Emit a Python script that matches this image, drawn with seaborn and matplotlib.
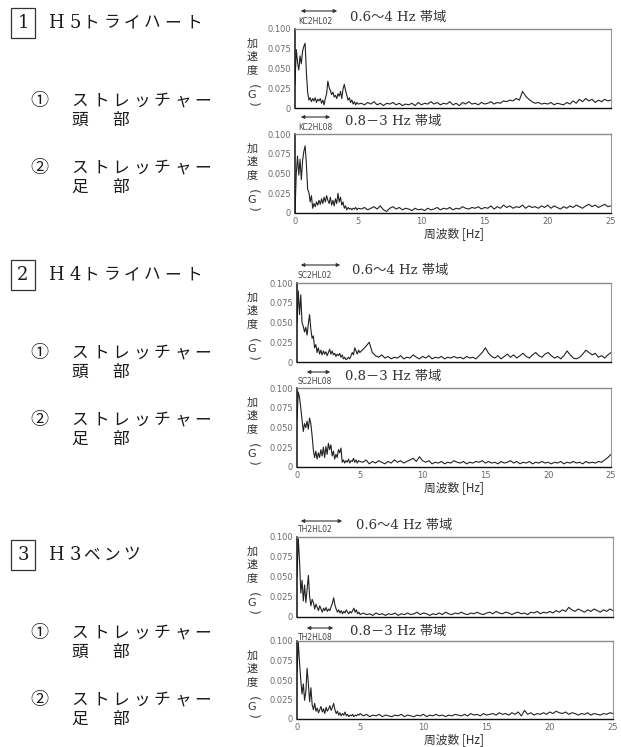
import numpy as np
import matplotlib
matplotlib.use("Agg")
import matplotlib.pyplot as plt
import seaborn as sns

# ---------------------------------------------------------------- data
# frequency grids [Hz]: fine steps below 5 Hz, coarser above
FREQ_LOW = np.round(np.arange(0.0, 5.0001, 0.1), 2)

# acceleration spectra [G]
H5_HEAD_LOW = [0.030, 0.074, 0.058, 0.048, 0.066, 0.056, 0.072, 0.078, 0.082, 0.045,
               0.020, 0.010, 0.013, 0.008, 0.012, 0.009, 0.013, 0.007, 0.011, 0.009,
               0.012, 0.006, 0.010, 0.004, 0.012, 0.018, 0.034, 0.026, 0.022, 0.017,
               0.020, 0.014, 0.016, 0.012, 0.018, 0.015, 0.021, 0.012, 0.024, 0.030,
               0.022, 0.016, 0.010, 0.013, 0.007, 0.010, 0.005, 0.008, 0.004, 0.007,
               0.005]
H5_HEAD_HIGH = [0.006, 0.004, 0.007, 0.005, 0.008, 0.004, 0.006, 0.003, 0.006, 0.005,
                0.007, 0.004, 0.006, 0.003, 0.005, 0.004, 0.006, 0.003, 0.007, 0.004,
                0.006, 0.005, 0.008, 0.005, 0.007, 0.004, 0.006, 0.005, 0.008, 0.004,
                0.006, 0.003, 0.007, 0.005, 0.008, 0.005, 0.006, 0.004, 0.007, 0.005,
                0.006, 0.008, 0.005, 0.007, 0.006, 0.009, 0.008, 0.010, 0.009, 0.012,
                0.010, 0.021, 0.015, 0.011, 0.008, 0.006, 0.007, 0.005, 0.006, 0.005,
                0.007, 0.004, 0.006, 0.005, 0.004, 0.007, 0.005, 0.009, 0.006, 0.011,
                0.008, 0.012, 0.009, 0.011, 0.007, 0.010, 0.008, 0.011, 0.009, 0.010]

H5_FOOT_LOW = [0.000, 0.050, 0.072, 0.048, 0.068, 0.042, 0.066, 0.078, 0.085, 0.062,
               0.030, 0.026, 0.014, 0.022, 0.006, 0.012, 0.008, 0.014, 0.010, 0.016,
               0.011, 0.018, 0.012, 0.020, 0.014, 0.022, 0.016, 0.012, 0.020, 0.010,
               0.016, 0.009, 0.018, 0.012, 0.025, 0.014, 0.020, 0.010, 0.014, 0.006,
               0.009, 0.004, 0.007, 0.005, 0.006, 0.004, 0.006, 0.005, 0.007, 0.004,
               0.006]
H5_FOOT_HIGH = [0.005, 0.007, 0.004, 0.006, 0.008, 0.005, 0.009, 0.004, 0.002, 0.006,
                0.008, 0.005, 0.007, 0.004, 0.006, 0.005, 0.003, 0.006, 0.004, 0.005,
                0.003, 0.006, 0.004, 0.005, 0.007, 0.004, 0.006, 0.005, 0.007, 0.004,
                0.006, 0.005, 0.008, 0.006, 0.005, 0.007, 0.006, 0.008, 0.005, 0.007,
                0.006, 0.009, 0.005, 0.008, 0.006, 0.010, 0.007, 0.009, 0.006, 0.008,
                0.007, 0.010, 0.006, 0.009, 0.007, 0.008, 0.006, 0.009, 0.007, 0.010,
                0.006, 0.009, 0.007, 0.005, 0.008, 0.006, 0.009, 0.007, 0.010, 0.008,
                0.006, 0.009, 0.011, 0.008, 0.010, 0.007, 0.009, 0.011, 0.008, 0.009]

H4_HEAD_LOW = [0.050, 0.090, 0.060, 0.085, 0.050, 0.045, 0.038, 0.044, 0.034, 0.048,
               0.060, 0.042, 0.030, 0.033, 0.018, 0.022, 0.012, 0.018, 0.010, 0.015,
               0.009, 0.014, 0.010, 0.013, 0.008, 0.012, 0.016, 0.010, 0.014, 0.009,
               0.011, 0.007, 0.010, 0.008, 0.011, 0.006, 0.009, 0.004, 0.006, 0.003,
               0.004, 0.006, 0.004, 0.008, 0.012, 0.009, 0.018, 0.014, 0.010, 0.015,
               0.012]
H4_HEAD_HIGH = [0.016, 0.020, 0.025, 0.012, 0.008, 0.006, 0.009, 0.005, 0.007, 0.004,
                0.006, 0.005, 0.008, 0.004, 0.006, 0.005, 0.009, 0.006, 0.004, 0.007,
                0.005, 0.008, 0.004, 0.006, 0.005, 0.007, 0.004, 0.006, 0.005, 0.007,
                0.005, 0.006, 0.004, 0.007, 0.005, 0.006, 0.004, 0.008, 0.012, 0.018,
                0.011, 0.007, 0.005, 0.008, 0.004, 0.007, 0.010, 0.006, 0.009, 0.005,
                0.008, 0.011, 0.007, 0.005, 0.009, 0.012, 0.008, 0.006, 0.010, 0.012,
                0.008, 0.005, 0.007, 0.004, 0.008, 0.014, 0.009, 0.005, 0.004, 0.006,
                0.010, 0.015, 0.012, 0.009, 0.011, 0.006, 0.008, 0.005, 0.009, 0.012]

H4_FOOT_LOW = [0.060, 0.095, 0.088, 0.075, 0.060, 0.045, 0.055, 0.050, 0.058, 0.048,
               0.062, 0.055, 0.040, 0.022, 0.012, 0.020, 0.010, 0.018, 0.012, 0.022,
               0.014, 0.025, 0.012, 0.026, 0.016, 0.030, 0.022, 0.028, 0.014, 0.020,
               0.010, 0.016, 0.012, 0.022, 0.018, 0.024, 0.006, 0.009, 0.005, 0.008,
               0.006, 0.010, 0.005, 0.008, 0.007, 0.011, 0.006, 0.009, 0.005, 0.008,
               0.007]
H4_FOOT_HIGH = [0.006, 0.009, 0.004, 0.007, 0.005, 0.008, 0.006, 0.004, 0.007, 0.005,
                0.009, 0.006, 0.008, 0.005, 0.007, 0.009, 0.011, 0.007, 0.013, 0.008,
                0.006, 0.008, 0.004, 0.006, 0.005, 0.007, 0.004, 0.006, 0.005, 0.008,
                0.006, 0.005, 0.007, 0.004, 0.006, 0.005, 0.007, 0.006, 0.008, 0.005,
                0.007, 0.005, 0.006, 0.004, 0.007, 0.005, 0.006, 0.008, 0.005, 0.007,
                0.004, 0.006, 0.005, 0.007, 0.004, 0.006, 0.005, 0.007, 0.005, 0.006,
                0.004, 0.006, 0.005, 0.007, 0.004, 0.006, 0.005, 0.007, 0.005, 0.006,
                0.004, 0.007, 0.005, 0.006, 0.005, 0.007, 0.006, 0.009, 0.012, 0.016]

H3_HEAD_LOW = [0.050, 0.098, 0.070, 0.030, 0.046, 0.020, 0.040, 0.018, 0.035, 0.052,
               0.025, 0.014, 0.022, 0.018, 0.010, 0.016, 0.012, 0.008, 0.014, 0.010,
               0.006, 0.011, 0.008, 0.012, 0.007, 0.010, 0.008, 0.013, 0.017, 0.024,
               0.015, 0.010, 0.006, 0.009, 0.005, 0.008, 0.004, 0.007, 0.005, 0.009,
               0.006, 0.004, 0.007, 0.005, 0.008, 0.011, 0.006, 0.009, 0.004, 0.006,
               0.003]
H3_HEAD_HIGH = [0.005, 0.003, 0.004, 0.002, 0.005, 0.003, 0.004, 0.002, 0.004, 0.003,
                0.005, 0.002, 0.004, 0.003, 0.005, 0.003, 0.004, 0.006, 0.003, 0.005,
                0.004, 0.002, 0.004, 0.003, 0.005, 0.003, 0.006, 0.004, 0.003, 0.005,
                0.004, 0.006, 0.004, 0.003, 0.005, 0.004, 0.006, 0.004, 0.003, 0.005,
                0.006, 0.004, 0.007, 0.005, 0.004, 0.006, 0.005, 0.003, 0.005, 0.006,
                0.004, 0.005, 0.003, 0.006, 0.005, 0.007, 0.004, 0.006, 0.005, 0.007,
                0.005, 0.008, 0.006, 0.009, 0.007, 0.012, 0.009, 0.007, 0.010, 0.008,
                0.006, 0.009, 0.007, 0.010, 0.008, 0.006, 0.009, 0.007, 0.010, 0.008]

H3_FOOT_LOW = [0.060, 0.099, 0.072, 0.050, 0.032, 0.045, 0.024, 0.035, 0.065, 0.045,
               0.022, 0.040, 0.018, 0.012, 0.020, 0.010, 0.014, 0.008, 0.012, 0.016,
               0.009, 0.013, 0.007, 0.015, 0.010, 0.013, 0.017, 0.011, 0.015, 0.020,
               0.012, 0.007, 0.010, 0.005, 0.008, 0.004, 0.007, 0.005, 0.009, 0.004,
               0.006, 0.003, 0.005, 0.004, 0.006, 0.003, 0.005, 0.004, 0.006, 0.005,
               0.007]
H3_FOOT_HIGH = [0.004, 0.006, 0.003, 0.005, 0.004, 0.006, 0.003, 0.005, 0.004, 0.003,
                0.005, 0.004, 0.006, 0.003, 0.005, 0.004, 0.003, 0.005, 0.004, 0.006,
                0.003, 0.005, 0.004, 0.006, 0.004, 0.005, 0.003, 0.005, 0.004, 0.006,
                0.005, 0.004, 0.006, 0.004, 0.007, 0.005, 0.006, 0.004, 0.007, 0.005,
                0.006, 0.007, 0.005, 0.008, 0.006, 0.007, 0.005, 0.008, 0.006, 0.009,
                0.004, 0.011, 0.006, 0.008, 0.005, 0.007, 0.006, 0.008, 0.006, 0.009,
                0.007, 0.010, 0.008, 0.007, 0.009, 0.006, 0.008, 0.007, 0.005, 0.007,
                0.006, 0.008, 0.005, 0.007, 0.006, 0.005, 0.007, 0.006, 0.008, 0.007]

CHANNELS = ["KC2HL02", "KC2HL08", "SC2HL02", "SC2HL08", "TH2HL02", "TH2HL08"]
BANDS = ["0.6～4 Hz 帯域", "0.8－3 Hz 帯域"] * 3
Y_TICKS = [0, 0.025, 0.050, 0.075, 0.100]
Y_TICK_LABELS = ["0", "0.025", "0.050", "0.075", "0.100"]
X_TICKS = [0, 5, 10, 15, 20, 25]
SECTION_NUMS = ["1", "2", "3"]
SECTION_NAMES = ["H5トライハート", "H4トライハート", "H3ベンツ"]
POINT_LABELS = [("①", "ストレッチャー", "頭部"), ("②", "ストレッチャー", "足部")]

SERIES = [(H5_HEAD_LOW, H5_HEAD_HIGH), (H5_FOOT_LOW, H5_FOOT_HIGH),
          (H4_HEAD_LOW, H4_HEAD_HIGH), (H4_FOOT_LOW, H4_FOOT_HIGH),
          (H3_HEAD_LOW, H3_HEAD_HIGH), (H3_FOOT_LOW, H3_FOOT_HIGH)]

# ---------------------------------------------------------------- layout
W, H = 621, 747
sns.set_style("white")
plt.rcParams["font.family"] = ["Noto Sans CJK JP", "DejaVu Sans"]
SERIF = ["DejaVu Serif", "Noto Sans CJK JP"]

fig = plt.figure(figsize=(W / 100, H / 100), dpi=100)
fig.patch.set_facecolor("white")


def fx(x):
    return x / W


def fy(y):
    return 1 - y / H


# axes boxes in pixels: left, top, right, bottom
BOXES = [(295, 29, 611, 108), (295, 134, 611, 213),
         (297, 283, 611, 362), (297, 388, 611, 467),
         (297, 537, 613, 617), (297, 641, 613, 719)]
# header pieces: arrow y, arrow x0, arrow x1, channel-label y, band-title x, band-title y
HEADERS = [(11, 298, 340, 22, 350, 17), (117, 298, 333, 127, 345, 122),
           (265, 298, 343, 276, 352, 270), (372, 304, 333, 382, 345, 377),
           (521, 298, 345, 530, 356, 525), (628, 304, 336, 638, 350, 632)]

for i, (box, (low, high)) in enumerate(zip(BOXES, SERIES)):
    l, t, r, b = box
    ax = fig.add_axes([fx(l), fy(b), (r - l) / W, (b - t) / H])
    freq = np.concatenate([FREQ_LOW, np.linspace(5.25, 25.0, len(high))])
    vals = np.concatenate([low, high])
    sns.lineplot(x=freq, y=vals, ax=ax, color="#222222", lw=0.8,
                 estimator=None, sort=False)
    ax.set_xlim(0, 25)
    ax.set_ylim(0, 0.1)
    ax.set_yticks(Y_TICKS)
    ax.set_yticklabels(Y_TICK_LABELS)
    ax.set_xticks(X_TICKS)
    bottom_panel = i % 2 == 1
    if bottom_panel:
        ax.set_xticklabels([str(v) for v in X_TICKS])
    else:
        ax.set_xticklabels([])
    ax.tick_params(axis="both", length=0, labelsize=6, labelcolor="#6a6a6a",
                   pad=3)
    for lab in ax.get_xticklabels() + ax.get_yticklabels():
        lab.set_family("DejaVu Sans")
    ax.set_xlabel("")
    ax.set_ylabel("")
    ax.spines["left"].set_color("#111111")
    ax.spines["bottom"].set_color("#111111")
    ax.spines["left"].set_linewidth(1.1)
    ax.spines["bottom"].set_linewidth(1.0)
    ax.spines["top"].set_color("#8a8a8a")
    ax.spines["top"].set_linewidth(1.0)
    ax.spines["right"].set_color("#9a9a9a")
    ax.spines["right"].set_linewidth(0.8)
    ax.set_facecolor("white")

    # vertical axis label 加速度（G）
    cy = t
    ylab_x = 252
    for ch, dy in zip(["加", "速", "度"], [15, 28, 41]):
        fig.text(fx(ylab_x), fy(cy + dy), ch, ha="center", va="center",
                 fontsize=8, color="#333333")
    fig.text(fx(ylab_x), fy(cy + 57), "(", rotation=-90, ha="center",
             va="center", fontsize=9, color="#444444", family="DejaVu Sans")
    fig.text(fx(ylab_x), fy(cy + 66), "G", ha="center", va="center",
             fontsize=8, color="#333333", family="DejaVu Sans")
    fig.text(fx(ylab_x), fy(cy + 75), ")", rotation=-90, ha="center",
             va="center", fontsize=9, color="#444444", family="DejaVu Sans")

    # band header: arrow, channel id and band title
    ay, ax0, ax1, ly, tx, ty = HEADERS[i]
    fig.add_artist(matplotlib.patches.FancyArrowPatch(
        (fx(ax0), fy(ay)), (fx(ax1), fy(ay)), transform=fig.transFigure,
        arrowstyle="<|-|>", mutation_scale=5, lw=0.8, color="#333333"))
    fig.text(fx(298), fy(ly), CHANNELS[i], ha="left", va="center",
             fontsize=5.5, color="#444444", family="DejaVu Sans")
    fig.text(fx(tx), fy(ty), BANDS[i], ha="left", va="center",
             fontsize=9.5, color="#333333", family=SERIF)

    if bottom_panel:
        fig.text(fx(454), fy(b + 21), "周波数 [Hz]", ha="center",
                 va="center", fontsize=8.5, color="#333333")

# ---------------------------------------------------------------- left captions
SECTION_TOPS = [23, 275, 555]


def spaced(x0, y, text, step, size, family=SERIF):
    for k, ch in enumerate(text):
        fig.text(fx(x0 + k * step), fy(y), ch, ha="center", va="center",
                 fontsize=size, color="#1a1a1a", family=family)


for num, name, ty in zip(SECTION_NUMS, SECTION_NAMES, SECTION_TOPS):
    fig.text(fx(23), fy(ty), num, ha="center", va="center", fontsize=13,
             color="#1a1a1a", family="DejaVu Serif",
             bbox=dict(boxstyle="square,pad=0.35", fc="white", ec="#333333",
                       lw=0.9))
    spaced(56, ty, name[:2], 19, 13)
    spaced(91, ty, name[2:], 20.5, 12)
    for (mark, word, part), dy in zip(POINT_LABELS, [78, 145]):
        fig.text(fx(39), fy(ty + dy), mark, ha="center", va="center",
                 fontsize=13, color="#1a1a1a")
        spaced(80, ty + dy, word, 20.5, 12)
        spaced(80, ty + dy + 19, part, 41, 12)

fig.savefig("out.png", dpi=100, facecolor="white")
